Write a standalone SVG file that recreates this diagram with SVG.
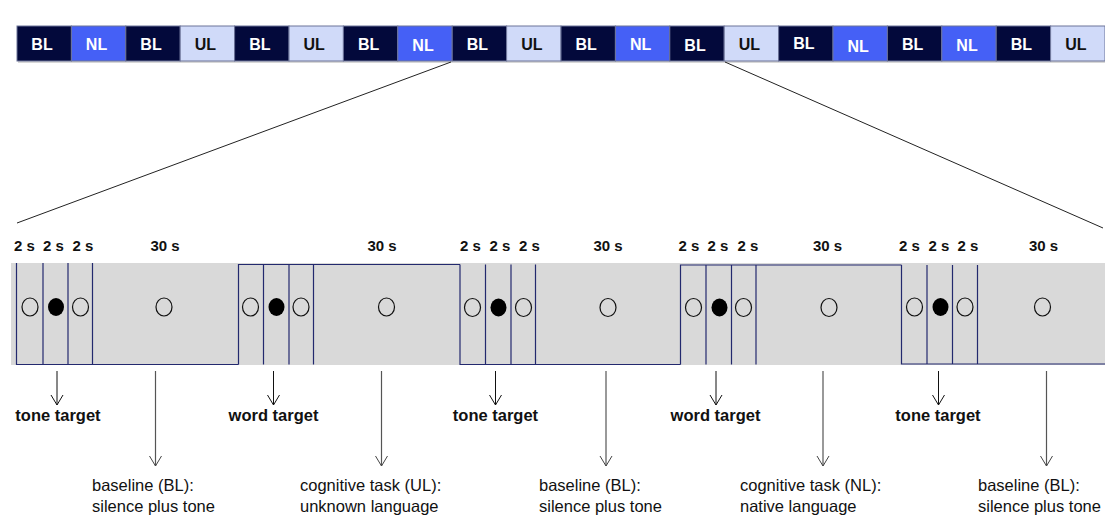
<svg xmlns="http://www.w3.org/2000/svg" width="1105" height="517" viewBox="0 0 1105 517">
<style>
.bl{fill:#03093b}
.nl{fill:#4560f6}
.ul{fill:#d0daf9}
.cell{stroke:#6d7499;stroke-width:1}
.ct{font-family:"Liberation Sans Narrow","Liberation Sans",Arial,sans-serif;font-weight:bold;font-size:16px;text-anchor:middle}
.w{fill:#ffffff}
.d{fill:#111111}
.tl{font-family:"Liberation Sans",Arial,sans-serif;font-weight:bold;font-size:15px;fill:#111;text-anchor:middle}
.lab{font-family:"Liberation Sans",Arial,sans-serif;font-size:16.5px;fill:#111}
.lbb{font-family:"Liberation Sans",Arial,sans-serif;font-size:16.5px;font-weight:bold;fill:#111;text-anchor:middle}
.bln{stroke:#23296e;stroke-width:1.2;fill:none}
.oc{fill:none;stroke:#111;stroke-width:1.2}
.fc{fill:#000}
.ar{stroke:#111;stroke-width:1;fill:none;marker-end:url(#v)}
.arl{stroke:#555;stroke-width:1.2;fill:none;marker-end:url(#v2)}
.zl{stroke:#222;stroke-width:1;fill:none}
</style>
<defs>
<marker id="v" markerUnits="userSpaceOnUse" markerWidth="14" markerHeight="16" refX="11" refY="7" orient="auto" overflow="visible">
<path d="M1,1 L11,7 L1,13" fill="none" stroke="#111" stroke-width="1"/>
</marker>
<marker id="v2" markerUnits="userSpaceOnUse" markerWidth="14" markerHeight="16" refX="11" refY="7" orient="auto" overflow="visible">
<path d="M1,1 L11,7 L1,13" fill="none" stroke="#444" stroke-width="1"/>
</marker>
</defs>
<rect width="1105" height="517" fill="#ffffff"/>

<!-- top bar -->
<g id="topbar">
<rect x="18" y="28" width="1087" height="35" fill="#bdbdbd" opacity="0.6"/>
<g id="c1"><rect class="cell bl" x="17" y="26" width="54.4" height="35"/><text class="ct w" x="42" y="50">BL</text></g>
<g id="c2"><rect class="cell nl" x="71.4" y="26" width="54.4" height="35"/><text class="ct w" x="96.5" y="50">NL</text></g>
<g id="c3"><rect class="cell bl" x="125.8" y="26" width="54.4" height="35"/><text class="ct w" x="151" y="50">BL</text></g>
<g id="c4"><rect class="cell ul" x="180.2" y="26" width="54.4" height="35"/><text class="ct d" x="205.4" y="50">UL</text></g>
<g id="c5"><rect class="cell bl" x="234.6" y="26" width="54.4" height="35"/><text class="ct w" x="259.8" y="50">BL</text></g>
<g id="c6"><rect class="cell ul" x="289" y="26" width="54.4" height="35"/><text class="ct d" x="314.2" y="50">UL</text></g>
<g id="c7"><rect class="cell bl" x="343.4" y="26" width="54.4" height="35"/><text class="ct w" x="368.6" y="50">BL</text></g>
<g id="c8"><rect class="cell nl" x="397.8" y="26" width="54.4" height="35"/><text class="ct w" x="423" y="51">NL</text></g>
<g id="c9"><rect class="cell bl" x="452.2" y="26" width="54.4" height="35"/><text class="ct w" x="477.4" y="50">BL</text></g>
<g id="c10"><rect class="cell ul" x="506.6" y="26" width="54.4" height="35"/><text class="ct d" x="531.8" y="50">UL</text></g>
<g id="c11"><rect class="cell bl" x="561" y="26" width="54.4" height="35"/><text class="ct w" x="586.2" y="50">BL</text></g>
<g id="c12"><rect class="cell nl" x="615.4" y="26" width="54.4" height="35"/><text class="ct w" x="640.6" y="50">NL</text></g>
<g id="c13"><rect class="cell bl" x="669.8" y="26" width="54.4" height="35"/><text class="ct w" x="695" y="51">BL</text></g>
<g id="c14"><rect class="cell ul" x="724.2" y="26" width="54.4" height="35"/><text class="ct d" x="749.4" y="50">UL</text></g>
<g id="c15"><rect class="cell bl" x="778.6" y="26" width="54.4" height="35"/><text class="ct w" x="803.8" y="49">BL</text></g>
<g id="c16"><rect class="cell nl" x="833" y="26" width="54.4" height="35"/><text class="ct w" x="858.2" y="52">NL</text></g>
<g id="c17"><rect class="cell bl" x="887.4" y="26" width="54.4" height="35"/><text class="ct w" x="912.6" y="50">BL</text></g>
<g id="c18"><rect class="cell nl" x="941.8" y="26" width="54.4" height="35"/><text class="ct w" x="967" y="51">NL</text></g>
<g id="c19"><rect class="cell bl" x="996.2" y="26" width="54.4" height="35"/><text class="ct w" x="1021.4" y="50">BL</text></g>
<g id="c20"><rect class="cell ul" x="1050.6" y="26" width="54.4" height="35"/><text class="ct d" x="1075.8" y="50">UL</text></g>
</g>

<!-- zoom lines -->
<g id="zoomlines">
<line class="zl" x1="451" y1="62" x2="17" y2="223"/>
<line class="zl" x1="725" y1="62" x2="1103" y2="228"/>
</g>

<!-- timeline band -->
<g id="band">
<rect x="11" y="263" width="1094" height="102" fill="#d9d9d9"/>
</g>

<g id="block1">
<path class="bln" d="M16.5,263 V364.5 H238.5 M43,263 V364.5 M68,263 V364.5 M92.5,263 V364.5"/>
<ellipse class="oc" cx="30" cy="307" rx="8" ry="9"/>
<ellipse class="fc" cx="56" cy="307" rx="8" ry="9"/>
<ellipse class="oc" cx="80.5" cy="307" rx="8" ry="9"/>
<ellipse class="oc" cx="164" cy="307" rx="8" ry="9"/>
<text class="tl" x="24.5" y="251">2 s</text>
<text class="tl" x="53.5" y="251">2 s</text>
<text class="tl" x="83" y="251">2 s</text>
<text class="tl" x="165" y="251">30 s</text>
</g>

<g id="block2">
<path class="bln" d="M238.5,364.5 V264.5 H460 M263.5,264.5 V364.5 M289,264.5 V364.5 M313.5,264.5 V364.5"/>
<ellipse class="oc" cx="250.5" cy="307" rx="8" ry="9"/>
<ellipse class="fc" cx="276.5" cy="307" rx="8" ry="9"/>
<ellipse class="oc" cx="301" cy="307" rx="8" ry="9"/>
<ellipse class="oc" cx="386.5" cy="307" rx="8" ry="9"/>
<text class="tl" x="382" y="251">30 s</text>
</g>

<g id="block3">
<path class="bln" d="M460,264.5 V364.5 H680.5 M485.5,264.5 V364.5 M511,264.5 V364.5 M535.5,264.5 V364.5"/>
<ellipse class="oc" cx="472.5" cy="307.5" rx="8" ry="9"/>
<ellipse class="fc" cx="498.5" cy="307.5" rx="8" ry="9"/>
<ellipse class="oc" cx="523.5" cy="307.5" rx="8" ry="9"/>
<ellipse class="oc" cx="608" cy="307.5" rx="8" ry="9"/>
<text class="tl" x="470.5" y="251">2 s</text>
<text class="tl" x="500" y="251">2 s</text>
<text class="tl" x="529.5" y="251">2 s</text>
<text class="tl" x="608" y="251">30 s</text>
</g>

<g id="block4">
<path class="bln" d="M680.5,364.5 V265 H901.5 M706,265 V364.5 M731.5,265 V364.5 M756,265 V364.5"/>
<ellipse class="oc" cx="693.5" cy="307.5" rx="8" ry="9"/>
<ellipse class="fc" cx="719.5" cy="307.5" rx="8" ry="9"/>
<ellipse class="oc" cx="743.5" cy="307.5" rx="8" ry="9"/>
<ellipse class="oc" cx="829" cy="307.5" rx="8" ry="9"/>
<text class="tl" x="689" y="251">2 s</text>
<text class="tl" x="718" y="251">2 s</text>
<text class="tl" x="748" y="251">2 s</text>
<text class="tl" x="827.5" y="251">30 s</text>
</g>

<g id="block5">
<path class="bln" d="M901.5,265 V364 H1105 M927,265 V364 M952.5,265 V364 M977.5,265 V364"/>
<ellipse class="oc" cx="914.5" cy="307" rx="8" ry="9"/>
<ellipse class="fc" cx="940.5" cy="307" rx="8" ry="9"/>
<ellipse class="oc" cx="965" cy="307" rx="8" ry="9"/>
<ellipse class="oc" cx="1042.5" cy="307" rx="8" ry="9"/>
<text class="tl" x="909.5" y="251">2 s</text>
<text class="tl" x="939" y="251">2 s</text>
<text class="tl" x="968" y="251">2 s</text>
<text class="tl" x="1043.5" y="251">30 s</text>
</g>

<!-- connectors -->
<g id="connectors">
<line class="ar" x1="57" y1="371" x2="57" y2="405"/>
<line class="ar" x1="273.5" y1="371" x2="273.5" y2="405"/>
<line class="ar" x1="495.5" y1="371" x2="495.5" y2="405"/>
<line class="ar" x1="716" y1="371" x2="716" y2="405"/>
<line class="ar" x1="938.5" y1="371" x2="938.5" y2="405"/>
<line class="arl" x1="155.5" y1="371" x2="155.5" y2="466"/>
<line class="arl" x1="381.5" y1="371" x2="381.5" y2="466"/>
<line class="arl" x1="606" y1="371" x2="606" y2="466"/>
<line class="arl" x1="823" y1="371" x2="823" y2="466"/>
<line class="arl" x1="1046.5" y1="371" x2="1046.5" y2="466"/>
</g>

<g id="labels">
<text class="lbb" x="58" y="421">tone target</text>
<text class="lbb" x="273.5" y="421">word target</text>
<text class="lbb" x="495.5" y="421">tone target</text>
<text class="lbb" x="715.5" y="421">word target</text>
<text class="lbb" x="938" y="421">tone target</text>
<text class="lab" x="92" y="491">baseline (BL):</text>
<text class="lab" x="92" y="512">silence plus tone</text>
<text class="lab" x="300" y="491">cognitive task (UL):</text>
<text class="lab" x="300" y="512">unknown language</text>
<text class="lab" x="539" y="491">baseline (BL):</text>
<text class="lab" x="539" y="512">silence plus tone</text>
<text class="lab" x="740" y="491">cognitive task (NL):</text>
<text class="lab" x="740" y="512">native language</text>
<text class="lab" x="978" y="491">baseline (BL):</text>
<text class="lab" x="978" y="512">silence plus tone</text>
</g>
</svg>
